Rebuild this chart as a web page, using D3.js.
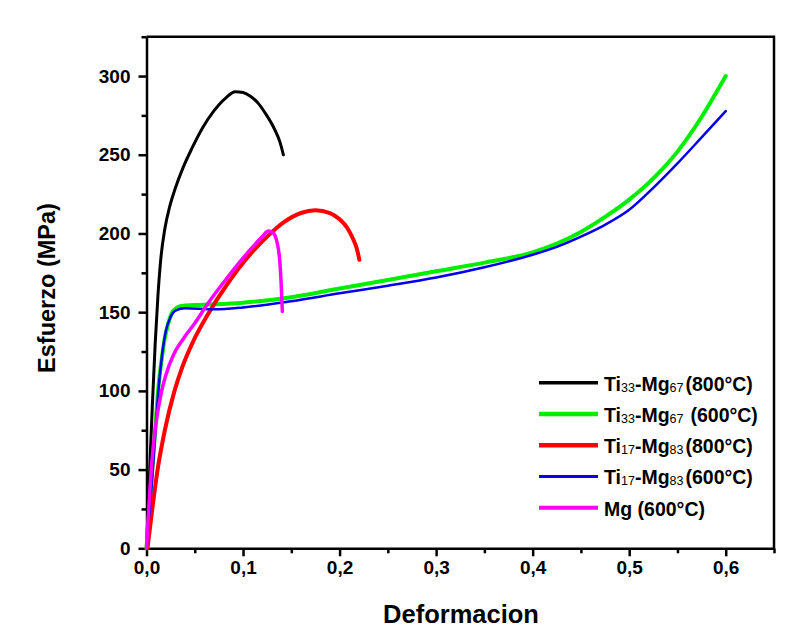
<!DOCTYPE html>
<html>
<head>
<meta charset="utf-8">
<script src="https://cdn.jsdelivr.net/npm/d3@7"></script>
<style>
  body { margin: 0; background: #fff; }
  svg { display: block; font-family: "Liberation Sans", Arial, sans-serif; }
  .axis path, .axis line { stroke: #000; stroke-width: 2.5px; }
  .axis text { font-size: 19px; font-weight: bold; fill: #000; }
</style>
</head>
<body>
<svg id="chart" width="808" height="630"></svg>
<script>
// strain / stress pairs
const ti33_800 = [[0,0],[0.003,45],[0.006,90],[0.009,130],[0.012,162],[0.015,185],[0.019,203],[0.024,217],[0.03,229],[0.038,242],[0.047,254],[0.058,267],[0.07,278],[0.082,286],[0.092,290],[0.1,289.5],[0.108,287],[0.116,282.5],[0.124,275.5],[0.132,267],[0.138,258.5],[0.1418,250]];
const ti33_600 = [[0,0],[0.003,25],[0.006,50],[0.009,75],[0.012,100],[0.0157,120],[0.0185,132],[0.0226,143],[0.0278,151],[0.0365,154],[0.05,154.5],[0.1,156],[0.15,159.5],[0.2,165],[0.25,170.5],[0.3,176],[0.35,181.5],[0.4,188],[0.425,193.5],[0.45,201],[0.475,210.5],[0.5,221.5],[0.525,235],[0.55,252],[0.575,274],[0.6,300]];
const ti17_800 = [[0.001,0],[0.006,25],[0.0115,50],[0.019,75],[0.029,100],[0.037,115],[0.048,131],[0.063,148],[0.085,169],[0.105,185],[0.125,198],[0.142,207],[0.16,213],[0.175,214.7],[0.19,213],[0.2,209],[0.208,203.5],[0.214,196.5],[0.218,190],[0.2205,183.3]];
const ti17_600 = [[0,0],[0.003,22],[0.006,45],[0.009,72],[0.012,98],[0.016,122],[0.02,138],[0.025,147],[0.03,151],[0.04,152.5],[0.07,151.8],[0.1,153],[0.15,157],[0.2,162],[0.25,166.8],[0.3,172],[0.35,178.5],[0.4,186.5],[0.425,191.5],[0.45,198],[0.475,205.5],[0.5,215],[0.525,229],[0.55,244.5],[0.575,261],[0.6,277.7]];
const mg_600 = [[0,0],[0.003,32],[0.006,58],[0.01,80],[0.015,98],[0.02,110],[0.028,123],[0.038,133],[0.05,143],[0.063,155],[0.085,173],[0.105,188],[0.12,198],[0.1262,201.5],[0.131,200.5],[0.135,195],[0.138,183],[0.1395,168],[0.1407,150.5]];

const seriesNames = ["Ti33-Mg67 (800°C)", "Ti33-Mg67 (600°C)", "Ti17-Mg83 (800°C)", "Ti17-Mg83 (600°C)", "Mg (600°C)"];
const seriesData = [ti33_800, ti33_600, ti17_800, ti17_600, mg_600];
const colors = ["#000000", "#00ee00", "#ff0000", "#0000ee", "#ff00ff"];
const widths = [3, 4, 4, 2.5, 3.5];

const xTicks = [0, 0.1, 0.2, 0.3, 0.4, 0.5, 0.6];
const xMinor = [0.05, 0.15, 0.25, 0.35, 0.45, 0.55, 0.65];
const yTicks = [0, 50, 100, 150, 200, 250, 300];
const yMinor = [25, 75, 125, 175, 225, 275, 325];

const plotLeft = 146.5, plotRight = 774, plotTop = 36.7, plotBottom = 548.3;

const svg = d3.select("#chart");
svg.append("rect").attr("width", 808).attr("height", 630).attr("fill", "#fff");

const x = d3.scaleLinear().domain([0, 0.65]).range([plotLeft, plotRight]);
const y = d3.scaleLinear().domain([0, 325]).range([plotBottom, plotTop]);

const fmt = d3.format(".1f");

// frame top / right
svg.append("path")
  .attr("d", `M${plotLeft},${plotTop}H${plotRight}V${plotBottom}`)
  .attr("fill", "none").attr("stroke", "#000").attr("stroke-width", 2.5);

// minor ticks
svg.append("g").attr("class", "axis").attr("transform", `translate(0,${plotBottom})`)
  .call(d3.axisBottom(x).tickValues(xMinor).tickSize(5).tickSizeOuter(0).tickFormat(""))
  .select(".domain").remove();
svg.append("g").attr("class", "axis").attr("transform", `translate(${plotLeft},0)`)
  .call(d3.axisLeft(y).tickValues(yMinor).tickSize(5).tickSizeOuter(0).tickFormat(""))
  .select(".domain").remove();

// major axes
svg.append("g").attr("class", "axis").attr("transform", `translate(0,${plotBottom})`)
  .call(d3.axisBottom(x).tickValues(xTicks).tickSize(8).tickPadding(4).tickSizeOuter(0)
    .tickFormat(d => fmt(d).replace(".", ",")));
svg.append("g").attr("class", "axis").attr("transform", `translate(${plotLeft},0)`)
  .call(d3.axisLeft(y).tickValues(yTicks).tickSize(8).tickPadding(8).tickSizeOuter(0));

// curves
const line = d3.line().x(d => x(d[0])).y(d => y(d[1])).curve(d3.curveMonotoneX);
svg.append("g").selectAll("path")
  .data(seriesData)
  .join("path")
  .attr("d", line)
  .attr("fill", "none")
  .attr("stroke", (d, i) => colors[i])
  .attr("stroke-width", (d, i) => widths[i])
  .attr("stroke-linejoin", "round")
  .attr("stroke-linecap", "round");

// axis titles
svg.append("text")
  .attr("x", 461).attr("y", 623)
  .attr("text-anchor", "middle")
  .attr("font-size", 25.5).attr("font-weight", "bold")
  .text("Deformacion");
svg.append("text")
  .attr("transform", "translate(55,288) rotate(-90)")
  .attr("text-anchor", "middle")
  .attr("font-size", 23.5).attr("font-weight", "bold")
  .text("Esfuerzo (MPa)");

// legend
const legend = svg.append("g");
seriesNames.forEach((name, i) => {
  const ly = 382.7 + i * 31.25;
  legend.append("line")
    .attr("x1", 539).attr("x2", 598).attr("y1", ly).attr("y2", ly)
    .attr("stroke", colors[i]).attr("stroke-width", widths[i] + 0.5);
  const t = legend.append("text")
    .attr("x", 604).attr("y", ly + 8)
    .attr("font-size", 19.5).attr("font-weight", "bold");
  const m = name.match(/^Ti(\d+)-Mg(\d+) (.*)$/);
  if (m) {
    t.append("tspan").text("Ti");
    t.append("tspan").attr("font-size", 12.5).attr("font-weight", "normal").attr("dy", 1).text(m[1]);
    t.append("tspan").attr("dy", -1).text("-Mg");
    t.append("tspan").attr("font-size", 12.5).attr("font-weight", "normal").attr("dy", 1).text(m[2]);
    t.append("tspan").attr("dy", -1).attr("dx", i === 1 ? 7 : 2).text(m[3]);
  } else {
    t.text(name);
  }
});
</script>
</body>
</html>
